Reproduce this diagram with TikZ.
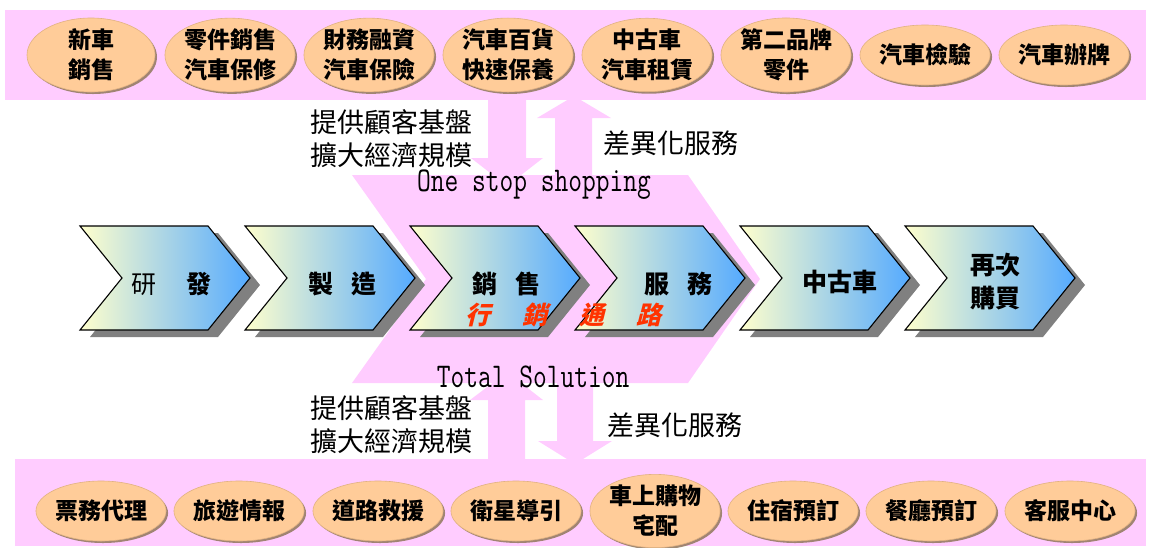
\documentclass[tikz,border=0pt]{standalone}
\usepackage{fontspec}
\usetikzlibrary{shapes.geometric,shadows}
\newfontfamily\cjk{Noto Sans CJK TC}
\newfontfamily\cjkslant[FakeSlant=0.25]{Noto Sans CJK TC}
\definecolor{pinkc}{RGB}{255,204,255}
\definecolor{peach}{RGB}{255,204,153}
\definecolor{peachedge}{RGB}{225,178,130}
\definecolor{ovalshadowc}{RGB}{150,125,100}
\definecolor{chevL}{RGB}{255,255,204}
\definecolor{chevR}{RGB}{85,170,255}
\definecolor{chevshadowc}{RGB}{128,128,128}
\definecolor{redtext}{RGB}{255,51,0}
\tikzset{
  pinkshape/.style={fill=pinkc, draw=none},
  oval/.style={ellipse, fill=peach, draw=peachedge, line width=0.6pt,
    minimum width=128pt, minimum height=60pt, inner sep=0pt, align=center,
    font=\cjk\bfseries\fontsize{23}{30}\selectfont,
    drop shadow={shadow xshift=2pt, shadow yshift=-2pt, fill=ovalshadowc, opacity=0.9}},
  chevbody/.style={left color=chevL, right color=chevR, draw=black, line width=1.1pt, line join=miter},
  chevshade/.style={fill=chevshadowc, draw=none},
  chevtext/.style={font=\cjk\bfseries\fontsize{25}{33}\selectfont, align=center, inner sep=0pt},
  lbl/.style={font=\cjk\fontsize{27}{33}\selectfont, align=left, inner sep=0pt},
  mono/.style={font=\ttfamily\fontsize{26.7}{30}\selectfont, inner sep=0pt},
}
\begin{document}
\begin{tikzpicture}[x=1pt,y=-1pt]
\useasboundingbox (0,0) rectangle (1156,547);
% bands
\fill[pinkshape] (5,10) rectangle (1146,100);
\fill[pinkshape] (15,459) rectangle (1146,546);
% big pink chevron band
\fill[pinkshape] (352,175) -- (688,175) -- (760,279) -- (688,383) -- (352,383) -- (426,279) -- cycle;
% top arrows
\fill[pinkshape] (488,98) -- (526,98) -- (526,158) -- (543,158) -- (507,186) -- (471,158) -- (488,158) -- cycle;
\fill[pinkshape] (555,178) -- (592,178) -- (592,118) -- (611,118) -- (574,96) -- (537,118) -- (555,118) -- cycle;
% bottom arrows
\fill[pinkshape] (488,462) -- (525,462) -- (525,400) -- (543,400) -- (507,372) -- (470,400) -- (488,400) -- cycle;
\fill[pinkshape] (557,380) -- (593,380) -- (593,441) -- (612,441) -- (575,464) -- (538,441) -- (557,441) -- cycle;
% labels
\node[lbl] (gain1) at (391,139) {提供顧客基盤\\擴大經濟規模};
\node[lbl] (gain2) at (391,425) {提供顧客基盤\\擴大經濟規模};
\node[lbl] (diff1) at (671,143) {差異化服務};
\node[lbl] (diff2) at (675,425) {差異化服務};
\node[mono] (oss) at (534,185) {\scalebox{1}[1.3]{One stop shopping}};
\node[mono] (tsol) at (533,377) {\scalebox{1}[1.3]{Total Solution}};
% chevrons
\foreach \L in {80,245,410,575,740,905}{
  \fill[chevshade] (\L+10,233) -- ++(128,0) -- ++(42,52) -- ++(-42,52) -- ++(-128,0) -- ++(42,-52) -- cycle;
  \path[chevbody] (\L,226) -- ++(128,0) -- ++(42,52) -- ++(-42,52) -- ++(-128,0) -- ++(42,-52) -- cycle;
}
\node[chevtext] (rd) at (171,284) {{\mdseries 研}\hspace{30pt}發};
\node[chevtext] (mfg) at (342,284) {製\hspace{18pt}造};
\node[chevtext] (sale) at (506,284) {銷\hspace{18pt}售};
\node[chevtext] (serv) at (678,284) {服\hspace{18pt}務};
\node[chevtext] (used) at (840,282) {中古車};
\node[chevtext] (rebuy) at (995,282) {再次\\購買};
\node[font=\cjkslant\bfseries\fontsize{25}{30}\selectfont, text=redtext, inner sep=0pt] (channel) at (563,315) {行\hspace{32pt}銷\hspace{32pt}通\hspace{32pt}路};
% top ovals
\node[oval] (o1) at (91,55) {新車\\銷售};
\node[oval] (o2) at (230,55) {零件銷售\\汽車保修};
\node[oval] (o3) at (369,55) {財務融資\\汽車保險};
\node[oval] (o4) at (508,55) {汽車百貨\\快速保養};
\node[oval] (o5) at (647,55) {中古車\\汽車租賃};
\node[oval] (o6) at (786,55) {第二品牌\\零件};
\node[oval] (o7) at (925,55) {汽車檢驗};
\node[oval] (o8) at (1064,55) {汽車辦牌};
% bottom ovals
\node[oval] (b1) at (101,511) {票務代理};
\node[oval] (b2) at (239,511) {旅遊情報};
\node[oval] (b3) at (378,511) {道路救援};
\node[oval] (b4) at (516,511) {衛星導引};
\node[oval] (b5) at (655,511) {車上購物\\宅配};
\node[oval] (b6) at (793,511) {住宿預訂};
\node[oval] (b7) at (931,511) {餐廳預訂};
\node[oval] (b8) at (1070,511) {客服中心};
\end{tikzpicture}
\end{document}
